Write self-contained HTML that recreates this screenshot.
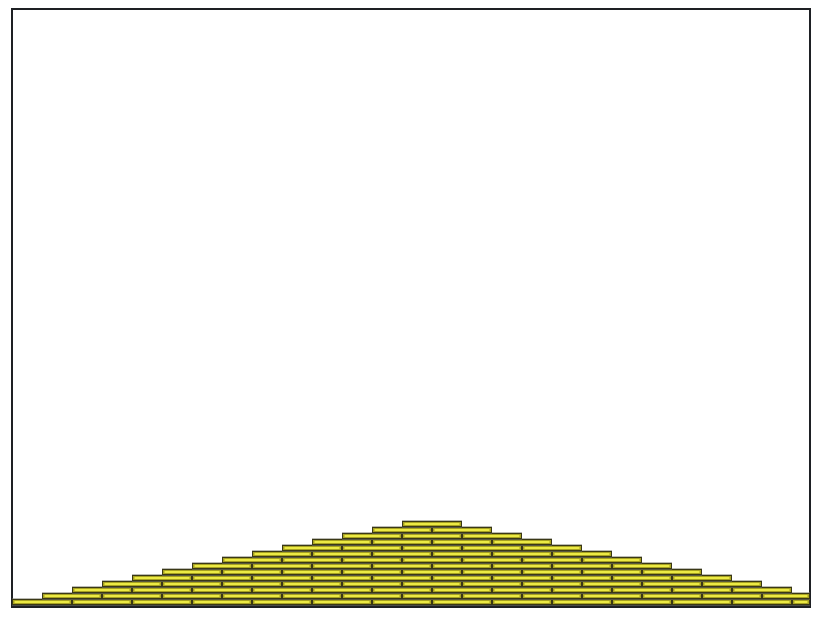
<!DOCTYPE html>
<html><head><meta charset="utf-8"><style>
html,body{margin:0;padding:0;background:#fff;width:828px;height:624px;overflow:hidden}
svg{display:block}
</style></head><body>
<svg id="chart" width="828" height="624" viewBox="0 0 828 624" xmlns="http://www.w3.org/2000/svg">
<rect x="12" y="9" width="798" height="598" fill="#fff" stroke="#1e2024" stroke-width="2"/>
<g id="bricks"></g>
<line x1="12" y1="606.5" x2="810" y2="606.5" stroke="#1e2024" stroke-width="2"/>
</svg>
<script>
const categories = [0,1,2,3,4,5,6,7,8,9,10,11,12,13,14,15,16,17,18,19,20,21,22,23,24,25,26];
const counts = [1,2,3,4,5,6,7,8,9,10,11,12,13,14,14,13,12,11,10,9,8,7,6,5,4,3,2];
const X0 = 12, X1 = 810, COLW = 30, BASE = 605, ROWH = 6;
function xScale(i){ return Math.min(X1, X0 + i * COLW); }
function yScale(r){ return BASE - r * ROWH; }
const NS = 'http://www.w3.org/2000/svg';
const g = document.getElementById('bricks');
const maxR = Math.max(...counts);
for (let r = 1; r <= maxR; r++) {
  let k = 0;
  while (k < categories.length) {
    if (counts[k] < r) { k++; continue; }
    let s = k; while (k < categories.length && counts[k] >= r) k++;
    let e = k;
    const halo = document.createElementNS(NS,'rect');
    
    
    halo.setAttribute('x', xScale(s)); halo.setAttribute('y', yScale(r) - 0.5);
    halo.setAttribute('width', xScale(e) - xScale(s)); halo.setAttribute('height', ROWH + 1);
    halo.setAttribute('fill', '#77776a');
    g.appendChild(halo);
    let c = s;
    while (c < e) {
      let len = ((c - (r - 1)) % 2 === 0) ? 2 : 1;
      let ce = Math.min(e, c + len);
      const x = xScale(c) + 0.5, w = xScale(ce) - xScale(c) - 1, y = yScale(r) + 0.5;
      const b = document.createElementNS(NS,'rect');
      
      
      b.setAttribute('x', x); b.setAttribute('y', y);
      b.setAttribute('width', w); b.setAttribute('height', ROWH - 1);
      b.setAttribute('fill', '#a8a220'); b.setAttribute('stroke', '#3a3816'); b.setAttribute('stroke-width', '1');
      g.appendChild(b);
      const hl = document.createElementNS(NS,'rect');
      
      
      hl.setAttribute('x', x + 2); hl.setAttribute('y', y + 1.5);
      hl.setAttribute('width', Math.max(0, w - 4)); hl.setAttribute('height', 2);
      hl.setAttribute('fill', '#ecea44');
      g.appendChild(hl);
      c = ce;
    }
  }
}
</script>
</body></html>
